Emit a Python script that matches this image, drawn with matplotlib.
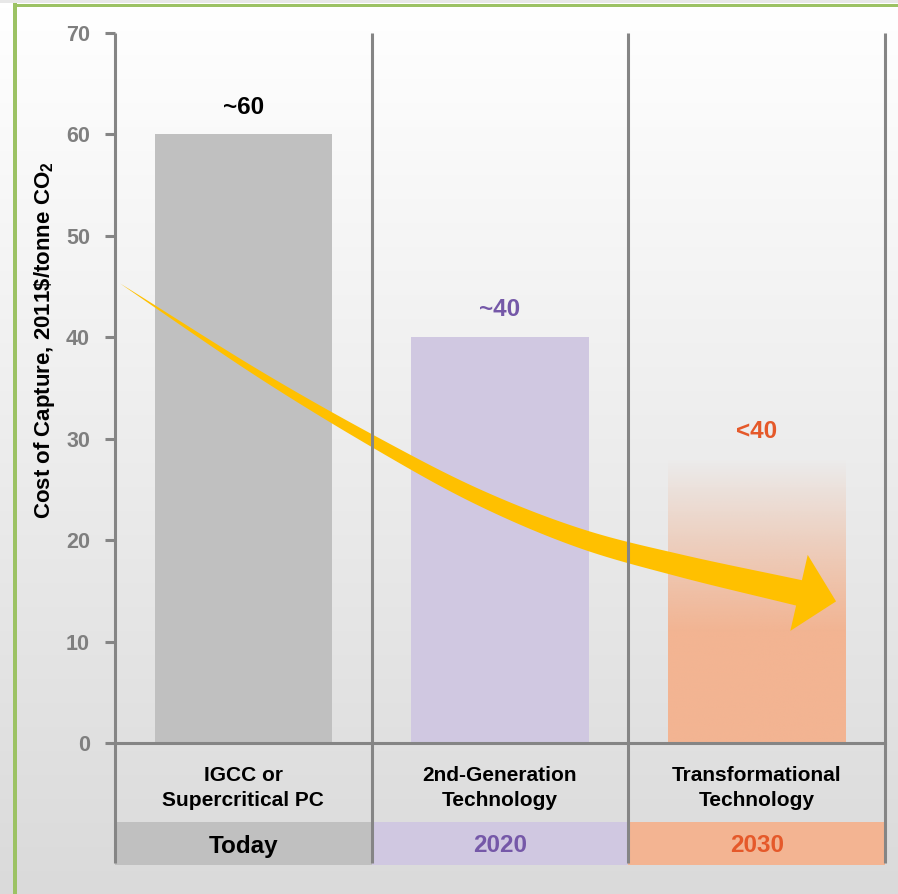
import numpy as np
import matplotlib
matplotlib.use("Agg")
import matplotlib.pyplot as plt
from matplotlib.patches import Rectangle, Polygon
from matplotlib.transforms import blended_transform_factory

# ---- data -------------------------------------------------------------
categories = ["IGCC or\nSupercritical PC", "2nd-Generation\nTechnology",
              "Transformational\nTechnology"]
periods = ["Today", "2020", "2030"]
costs = [60, 40, 28]
cost_labels = ["~60", "~40", "<40"]
yticks = [0, 10, 20, 30, 40, 50, 60, 70]

# trend arrow centreline (data coordinates)
arrow_x = [-0.48, 0.06, 0.53, 0.92, 1.31, 1.70, 2.165]
arrow_y = [45.3, 36.4, 29.4, 24.2, 20.2, 17.5, 14.8]

# ---- styling ----------------------------------------------------------
bar_colors = ["#c0c0c0", "#d0c8e1", "#f3b492"]
label_colors = ["#000000", "#7558a8", "#e5592a"]
grid_gray = "#858585"
arrow_color = "#ffc000"
green = "#9cc264"

plt.rcParams["font.family"] = ["Liberation Sans", "DejaVu Sans"]
plt.rcParams["font.weight"] = "bold"
plt.rcParams["mathtext.fontset"] = "custom"
plt.rcParams["mathtext.rm"] = "Liberation Sans:bold"

W, H = 898, 894
fig = plt.figure(figsize=(W / 100, H / 100), dpi=100)

# soft vertical background gradient
bg = fig.add_axes([0, 0, 1, 1], zorder=-10)
rows = np.arange(H)
shade = 255 - 37 * np.clip((rows - 7) / (H - 7), 0, 1)
shade[:3] = 232
grad = np.repeat((shade / 255.0)[:, None, None], 3, axis=2)
bg.imshow(grad, extent=[0, 1, 0, 1], aspect="auto", origin="upper")
bg.set_axis_off()

# green frame (top and left)
fig.add_artist(Rectangle((13 / W, 0), 3.5 / W, 1 - 3 / H, transform=fig.transFigure,
                         color=green, lw=0))
fig.add_artist(Rectangle((13 / W, 1 - 7 / H), 1, 3.5 / H, transform=fig.transFigure,
                         color=green, lw=0))

# ---- main axes --------------------------------------------------------
ax = fig.add_axes([115 / W, 1 - 743 / H, 770 / W, 710 / H])
ax.patch.set_alpha(0)
for s in ax.spines.values():
    s.set_visible(False)

x = np.arange(len(categories))
bw = 0.69
ax.bar(x[:2], costs[:2], width=bw, color=bar_colors[:2], zorder=2)

# gradient bar for the transformational technology
x0 = x[2] - bw / 2
rect = Rectangle((x0, 0), bw, costs[2], facecolor="none", edgecolor="none")
ax.add_patch(rect)
yy = np.linspace(0, costs[2], 300)
alpha = np.clip((costs[2] - yy) / (costs[2] - 11), 0, 1)
rgba = np.zeros((300, 1, 4))
rgba[..., :3] = matplotlib.colors.to_rgb(bar_colors[2])
rgba[:, 0, 3] = alpha
im = ax.imshow(rgba, extent=[x0, x0 + bw, 0, costs[2]], aspect="auto",
               origin="lower", zorder=2, interpolation="bilinear")
im.set_clip_path(rect)

ax.set_xlim(-0.5, 2.5)
ax.set_ylim(0, 70)

for i in x:
    ax.text(i, costs[i] + 2.7, cost_labels[i], ha="center", va="center",
            fontsize=17.5, color=label_colors[i], zorder=4)

# ticks
ax.set_xticks([])
ax.set_yticks(yticks)
ax.tick_params(axis="y", length=7, width=2.2, color=grid_gray, direction="out",
               pad=11, labelsize=15.5, labelcolor="#7f7f7f")

# separators and baseline
btrans = blended_transform_factory(ax.transData, ax.transAxes)
y_low = (743 - 863) / 710
for xv in [-0.5, 0.5, 1.5, 2.5]:
    ax.plot([xv, xv], [y_low, 1], transform=btrans, color=grid_gray, lw=2.2,
            clip_on=False, zorder=5, solid_capstyle="butt")
ax.plot([-0.5, 2.5], [0, 0], color=grid_gray, lw=2.2, clip_on=False, zorder=5,
        solid_capstyle="projecting")

# category labels and period band
for i in x:
    ax.text(i, (743 - 788) / 710, categories[i], transform=btrans, ha="center",
            va="center", fontsize=15, color="#000000", linespacing=1.45)
    ax.add_patch(Rectangle((i - 0.5, (743 - 865) / 710), 1, (865 - 822) / 710,
                           transform=btrans, color=bar_colors[i], lw=0,
                           clip_on=False, zorder=1))
    ax.text(i, (743 - 846) / 710, periods[i], transform=btrans, ha="center",
            va="center", fontsize=17.5, color=label_colors[i], zorder=3)

fig.text(45 / W, 1 - 340 / H, "Cost of Capture, 2011\\$/tonne CO$_\\mathrm{2}$",
         rotation=90, ha="center", va="center", fontsize=16, color="#000000")

# ---- curved trend arrow -----------------------------------------------
pts = ax.transData.transform(np.column_stack([arrow_x, arrow_y]))


def catmull_rom(p, n=40):
    p = np.vstack([2 * p[0] - p[1], p, 2 * p[-1] - p[-2]])
    out = []
    for k in range(1, len(p) - 2):
        p0, p1, p2, p3 = p[k - 1], p[k], p[k + 1], p[k + 2]
        t = np.linspace(0, 1, n, endpoint=False)[:, None]
        out.append(0.5 * ((2 * p1) + (-p0 + p2) * t + (2 * p0 - 5 * p1 + 4 * p2 - p3) * t ** 2
                          + (-p0 + 3 * p1 - 3 * p2 + p3) * t ** 3))
    out.append(p[-2][None, :])
    return np.vstack(out)


c = catmull_rom(pts)
seg = np.diff(c, axis=0)
s = np.concatenate([[0], np.cumsum(np.hypot(seg[:, 0], seg[:, 1]))])
tfrac = s / s[-1]
width = 26 * tfrac ** 0.9
tan = np.gradient(c, axis=0)
tan /= np.hypot(tan[:, 0], tan[:, 1])[:, None]
nrm = np.column_stack([-tan[:, 1], tan[:, 0]])
upper = c + nrm * width[:, None] / 2
lower = c - nrm * width[:, None] / 2
d = tan[-1]
n_end = nrm[-1]
P = c[-1]
head = [P + n_end * 39, P + d * 38, P - n_end * 39]
poly_disp = np.vstack([upper, head, lower[::-1]])
poly = ax.transData.inverted().transform(poly_disp)
ax.add_patch(Polygon(poly, closed=True, facecolor=arrow_color, edgecolor="none",
                     zorder=3, clip_on=False))

fig.savefig("out.png", dpi=100)
